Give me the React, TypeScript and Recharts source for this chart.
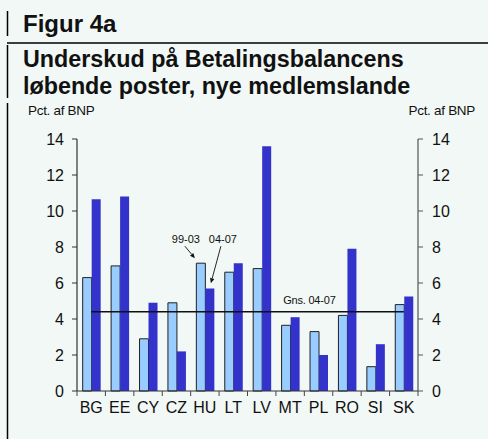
import React from 'react';
import { ComposedChart, Bar, Line, XAxis, YAxis, ReferenceDot } from 'recharts';

const countries = ['BG', 'EE', 'CY', 'CZ', 'HU', 'LT', 'LV', 'MT', 'PL', 'RO', 'SI', 'SK'];
const period9903 = [6.3, 6.95, 2.9, 4.9, 7.1, 6.6, 6.8, 3.65, 3.3, 4.2, 1.35, 4.8];
const period0407 = [10.65, 10.8, 4.9, 2.2, 5.7, 7.1, 13.6, 4.1, 2.0, 7.9, 2.6, 5.25];
const gns0407 = 4.4;
const yTicks = [0, 2, 4, 6, 8, 10, 12, 14];

const data = countries.map((c, i) => ({
  country: c,
  p1: period9903[i],
  p2: period0407[i],
  gns: gns0407,
}));

const FONT = 'Arial, "Liberation Sans", Helvetica, sans-serif';
const BG = '#f1f8f5';
const LIGHT = '#99ccff';
const DARK = '#3333cc';
const TICK_MARGIN_X = 6;

const XTick = (props: any) => {
  const { x, y, payload, width, visibleTicksCount, index } = props;
  const half = width / visibleTicksCount / 2;
  const axisY = y - 5 - TICK_MARGIN_X;
  return (
    <g>
      <line x1={x - half} x2={x - half} y1={axisY} y2={axisY + 5} stroke="#444" strokeWidth={1} />
      {index === visibleTicksCount - 1 && (
        <line x1={x + half} x2={x + half} y1={axisY} y2={axisY + 5} stroke="#444" strokeWidth={1} />
      )}
      <text x={x} y={y} dy="0.71em" textAnchor="middle" fontSize={16} fontFamily={FONT} fill="#111">
        {payload.value}
      </text>
    </g>
  );
};

const Arrow = ({ x1, y1, x2, y2 }: { x1: number; y1: number; x2: number; y2: number }) => {
  const ang = Math.atan2(y2 - y1, x2 - x1);
  const L = 5;
  const W = 2.2;
  const bx = x2 - L * Math.cos(ang);
  const by = y2 - L * Math.sin(ang);
  const px = -Math.sin(ang) * W;
  const py = Math.cos(ang) * W;
  return (
    <g>
      <line x1={x1} y1={y1} x2={bx} y2={by} stroke="#111" strokeWidth={0.9} />
      <polygon points={`${x2},${y2} ${bx + px},${by + py} ${bx - px},${by - py}`} fill="#111" />
    </g>
  );
};

const PeriodAnnotation = (props: any) => {
  const { cx, cy } = props;
  if (cx == null || cy == null) return null;
  return (
    <g>
      <text x={cx - 19} y={cy - 20} textAnchor="middle" fontSize={11} fontFamily={FONT} fill="#111">99-03</text>
      <Arrow x1={cx - 20} y1={cy - 17} x2={cx - 10} y2={cy - 5} />
      <text x={cx + 18} y={cy - 20} textAnchor="middle" fontSize={11} fontFamily={FONT} fill="#111">04-07</text>
      <Arrow x1={cx + 16} y1={cy - 17} x2={cx + 6} y2={cy + 20} />
    </g>
  );
};

const GnsLabel = (props: any) => {
  const { cx, cy } = props;
  if (cx == null || cy == null) return null;
  return (
    <text x={cx - 7} y={cy - 8} textAnchor="start" fontSize={11} fontFamily={FONT} fill="#111" letterSpacing={-0.2}>
      Gns. 04-07
    </text>
  );
};

export default function App() {
  return (
    <div style={{ position: 'absolute', left: 0, top: 0, width: 488, height: 439, background: BG, overflow: 'hidden' }}>
      <svg width={488} height={439} style={{ position: 'absolute', left: 0, top: 0 }}>
        <line x1={7.5} x2={7.5} y1={11} y2={36} stroke="#000" strokeWidth={1.5} />
        <line x1={7.5} x2={7.5} y1={45} y2={98} stroke="#000" strokeWidth={1.5} />
        <line x1={7.5} x2={7.5} y1={103} y2={439} stroke="#000" strokeWidth={1.5} />
        <line x1={7} x2={488} y1={43} y2={43} stroke="#000" strokeWidth={1.5} />
        <text x={23} y={32} fontSize={24} fontWeight="bold" fontFamily={FONT} fill="#111">Figur 4a</text>
        <text x={23} y={67} fontSize={23.3} fontWeight="bold" fontFamily={FONT} fill="#111">Underskud på Betalingsbalancens</text>
        <text x={23} y={94} fontSize={23.3} fontWeight="bold" fontFamily={FONT} fill="#111">løbende poster, nye medlemslande</text>
        <text x={28} y={115} fontSize={13.5} fontFamily={FONT} fill="#111" letterSpacing={-0.3}>Pct. af BNP</text>
        <text x={475} y={115} fontSize={13.5} fontFamily={FONT} fill="#111" textAnchor="end" letterSpacing={-0.3}>Pct. af BNP</text>
      </svg>
      <div style={{ position: 'absolute', left: 0, top: 120 }}>
        <ComposedChart
          width={488}
          height={319}
          data={data}
          margin={{ top: 19, right: 30, left: 37, bottom: 18 }}
          barCategoryGap="20%"
          barGap={0}
        >
          <XAxis
            dataKey="country"
            xAxisId="x"
            height={30}
            tickLine={{ stroke: 'none' }}
            tickSize={5}
            tickMargin={TICK_MARGIN_X}
            axisLine={{ stroke: '#333', strokeWidth: 1.2 }}
            tick={<XTick />}
            interval={0}
          />
          <YAxis
            yAxisId="left"
            orientation="left"
            width={40}
            domain={[0, 14]}
            ticks={yTicks}
            tickSize={5}
            tickMargin={8}
            axisLine={{ stroke: '#333', strokeWidth: 1.2 }}
            tickLine={{ stroke: '#333' }}
            tick={{ fontSize: 16, fontFamily: FONT, fill: '#111' }}
          />
          <YAxis
            yAxisId="right"
            orientation="right"
            width={40}
            domain={[0, 14]}
            ticks={yTicks}
            tickSize={5}
            tickMargin={9}
            axisLine={{ stroke: '#555', strokeWidth: 1.2 }}
            tickLine={{ stroke: '#555' }}
            tick={{ fontSize: 16, fontFamily: FONT, fill: '#111' }}
          />
          <Bar xAxisId="x" yAxisId="left" dataKey="p1" fill={LIGHT} stroke="#222" strokeWidth={1} isAnimationActive={false} />
          <Bar xAxisId="x" yAxisId="left" dataKey="p2" fill={DARK} isAnimationActive={false} />
          <Line
            xAxisId="x"
            yAxisId="left"
            dataKey="gns"
            stroke="#111"
            strokeWidth={1.6}
            dot={false}
            activeDot={false}
            isAnimationActive={false}
          />
          <Line
            xAxisId="x"
            yAxisId="right"
            dataKey="gns"
            stroke="none"
            strokeWidth={0}
            dot={false}
            activeDot={false}
            legendType="none"
            isAnimationActive={false}
          />
          <ReferenceDot xAxisId="x" yAxisId="left" x="HU" y={period9903[4]} shape={<PeriodAnnotation />} />
          <ReferenceDot xAxisId="x" yAxisId="left" x="MT" y={gns0407} shape={<GnsLabel />} />
        </ComposedChart>
      </div>
    </div>
  );
}
